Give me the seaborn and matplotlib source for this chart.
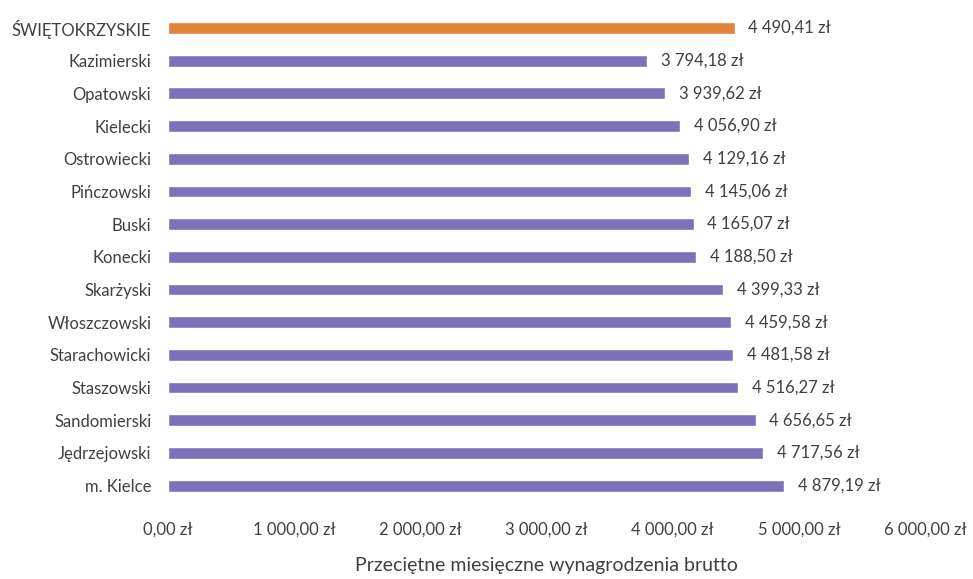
import matplotlib
matplotlib.use("Agg")
import matplotlib.pyplot as plt
import seaborn as sns
import pandas as pd

# Average gross monthly wages by county (powiat)
counties = ["ŚWIĘTOKRZYSKIE", "Kazimierski", "Opatowski", "Kielecki", "Ostrowiecki",
            "Pińczowski", "Buski", "Konecki", "Skarżyski", "Włoszczowski",
            "Starachowicki", "Staszowski", "Sandomierski", "Jędrzejowski", "m. Kielce"]
wages = [4490.41, 3794.18, 3939.62, 4056.90, 4129.16,
         4145.06, 4165.07, 4188.50, 4399.33, 4459.58,
         4481.58, 4516.27, 4656.65, 4717.56, 4879.19]
xticks = [0, 1000, 2000, 3000, 4000, 5000, 6000]


def fmt_pln(v):
    s = f"{v:,.2f}".replace(",", " ").replace(".", ",")
    return s + " zł"


df = pd.DataFrame({"county": counties, "wage": wages})
colors = ["#E4823A"] + ["#7B72BA"] * (len(counties) - 1)

sns.set_style("white")
plt.rcParams["font.family"] = ["Lato", "DejaVu Sans"]

fig = plt.figure(figsize=(9.73, 5.79), dpi=100)
ax = fig.add_axes([0.1727, 0.133, 0.778, 0.847])

sns.barplot(data=df, x="wage", y="county", hue="county", palette=colors,
            legend=False, width=0.36, saturation=1, ax=ax)

for i, v in enumerate(wages):
    ax.text(v + 110, i, fmt_pln(v), va="center", ha="left", fontsize=12, color="#404040")

ax.set_xlim(0, 6000)
ax.set_xticks(xticks)
ax.set_xticklabels([fmt_pln(t) for t in xticks], fontsize=12, color="#404040")
ax.tick_params(axis="y", labelsize=12, labelcolor="#404040", length=0, pad=12)
ax.tick_params(axis="x", length=0, pad=14)
ax.set_ylabel("")
ax.set_xlabel("Przeciętne miesięczne wynagrodzenia brutto", fontsize=14,
              color="#404040", labelpad=14)
sns.despine(left=True, bottom=True)

plt.savefig("out.png", dpi=100)
